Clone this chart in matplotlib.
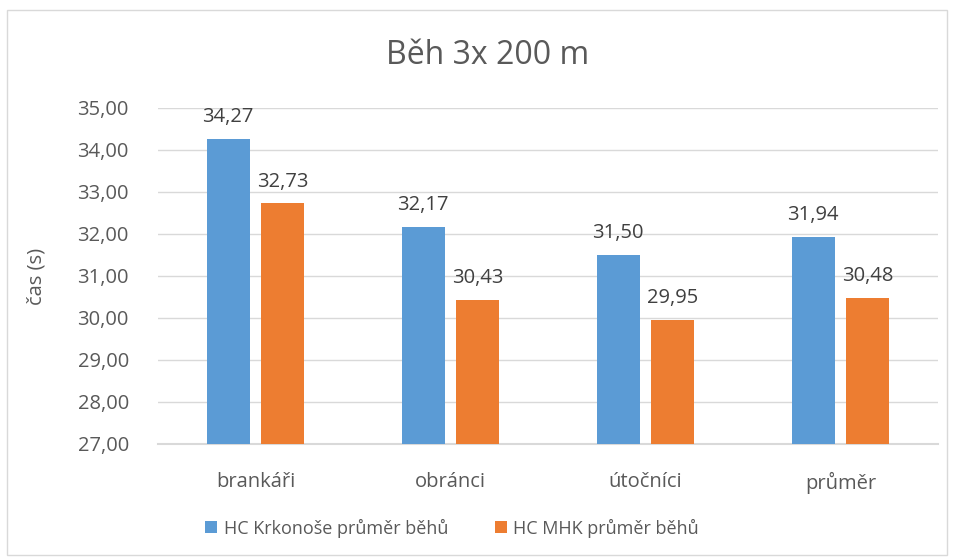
import numpy as np
import matplotlib.pyplot as plt
from matplotlib.patches import Rectangle

plt.rcParams['font.family'] = ['Open Sans', 'DejaVu Sans']

# data
categories = ['brankáři', 'obránci', 'útočníci', 'průměr']
krkonose = [34.27, 32.17, 31.50, 31.94]
mhk = [32.73, 30.43, 29.95, 30.48]
series_names = ['HC Krkonoše průměr běhů', 'HC MHK průměr běhů']
yticks = [27, 28, 29, 30, 31, 32, 33, 34, 35]

blue = '#5b9bd5'
orange = '#ed7d31'
txt = '#595959'

fig = plt.figure(figsize=(9.55, 5.59), dpi=100)
ax = fig.add_axes([158 / 955, 1 - 444 / 559, 780 / 955, 336 / 559])

# chart border
fig.patches.append(Rectangle((7 / 955, 4 / 559), 940 / 955, 545 / 559, transform=fig.transFigure,
                             fill=False, edgecolor='#d9d9d9', linewidth=1))

x = np.arange(len(categories))
w = 0.22
b1 = ax.bar(x - 0.14, np.array(krkonose) - 27, w, bottom=27, color=blue, label=series_names[0], zorder=3)
b2 = ax.bar(x + 0.14, np.array(mhk) - 27, w, bottom=27, color=orange, label=series_names[1], zorder=3)

for bars, vals in ((b1, krkonose), (b2, mhk)):
    for r, v in zip(bars, vals):
        ax.text(r.get_x() + r.get_width() / 2, v + 0.52, f'{v:.2f}'.replace('.', ','),
                ha='center', va='center', fontsize=14.5, color='#404040')

ax.set_ylim(27, 35)
ax.set_xlim(-0.5, 3.5)
ax.set_yticks(yticks)
ax.set_yticklabels([f'{t:.2f}'.replace('.', ',') for t in yticks])
ax.set_xticks(x)
ax.set_xticklabels(categories)
ax.tick_params(axis='both', length=0, labelsize=14.5, labelcolor=txt)
ax.tick_params(axis='y', pad=21)
ax.tick_params(axis='x', pad=20)
ax.grid(axis='y', color='#d9d9d9', linewidth=1, zorder=0)
for s in ['top', 'right', 'left']:
    ax.spines[s].set_visible(False)
ax.spines['bottom'].set_color('#d9d9d9')
ax.spines['bottom'].set_linewidth(1.5)
ax.set_ylabel('čas (s)', fontsize=14.5, color=txt, labelpad=22)

fig.text(488 / 955, 1 - 55 / 559, 'Běh 3x 200 m', ha='center', va='center', fontsize=23, color=txt)

fig.legend(handles=[b1, b2], loc='center', bbox_to_anchor=(452 / 955, 1 - 528 / 559), ncol=2, frameon=False,
           fontsize=13, labelcolor=txt, handlelength=0.65, handleheight=0.65, handletextpad=0.35,
           columnspacing=2.6)

fig.savefig('out.png', dpi=100)
